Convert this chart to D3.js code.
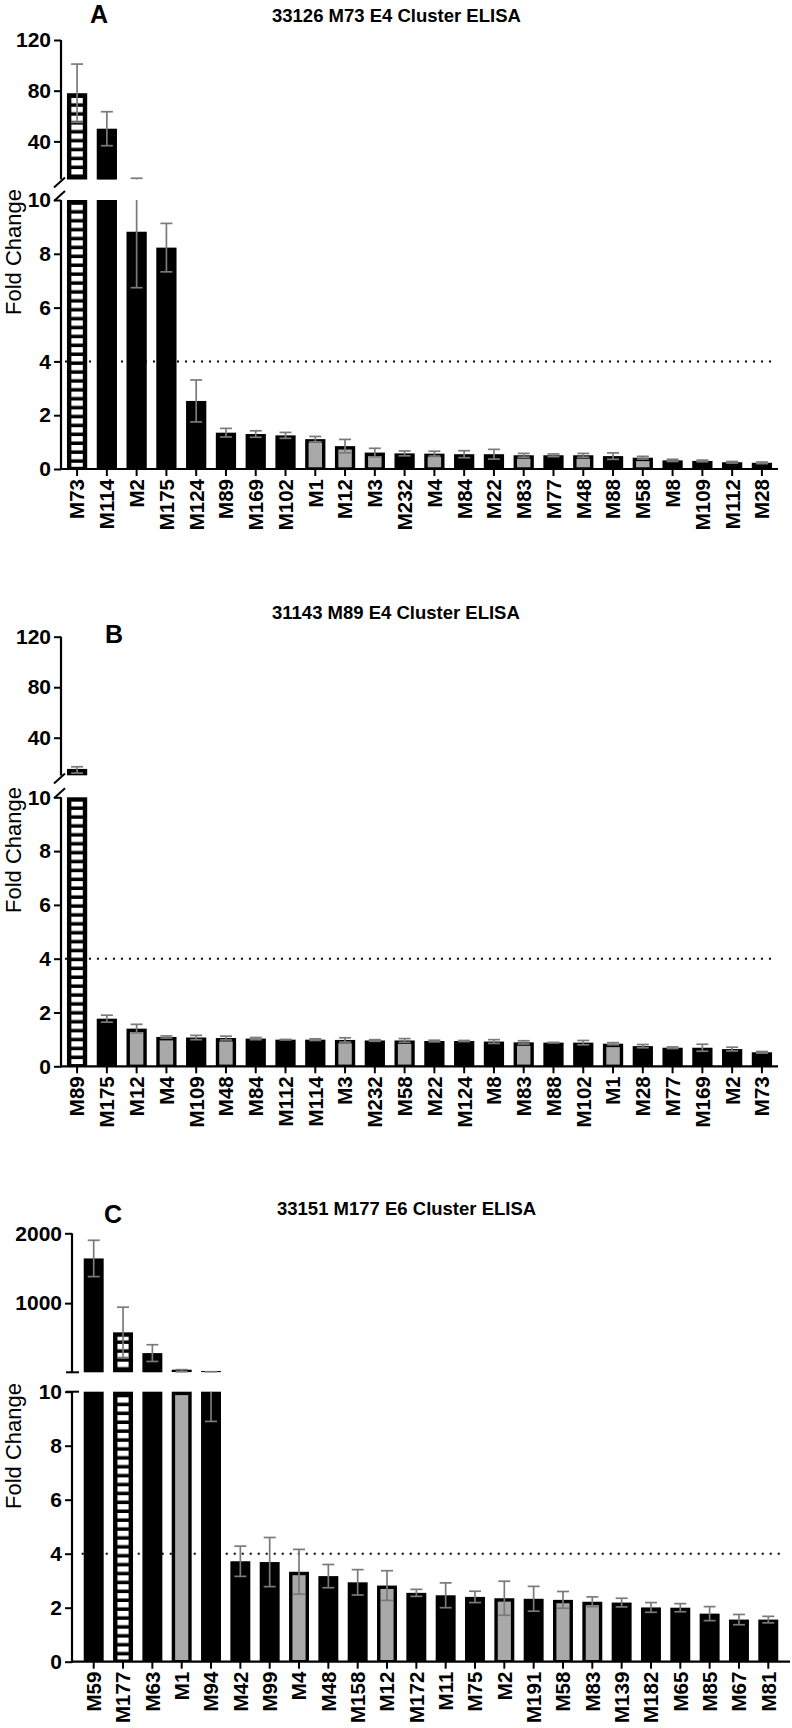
<!DOCTYPE html>
<html>
<head>
<meta charset="utf-8">
<script src="https://cdn.jsdelivr.net/npm/d3@7"></script>
<style>
  html, body { margin: 0; padding: 0; background: #fff; }
  svg { display: block; }
  text { font-family: "Liberation Sans", Arial, Helvetica, sans-serif; fill: #000; }
</style>
</head>
<body>
<div id="chart"></div>
<script>
// ---------------- DATA ----------------
const catA = ["M73","M114","M2","M175","M124","M89","M169","M102","M1","M12","M3","M232","M4","M84","M22","M83","M77","M48","M88","M58","M8","M109","M112","M28"];
const valA = [78,50,8.82,8.23,2.53,1.35,1.30,1.25,1.11,0.85,0.61,0.58,0.57,0.55,0.55,0.51,0.51,0.51,0.48,0.42,0.32,0.30,0.25,0.23];
const sdA  = [23,13.4,2.08,0.9,0.78,0.16,0.12,0.11,0.1,0.25,0.16,0.09,0.09,0.13,0.18,0.07,0.05,0.07,0.12,0.05,0.04,0.03,0.03,0.03];
const grpA = ["h","b","b","b","b","b","b","b","g","g","g","b","g","b","b","g","b","g","b","g","b","b","b","b"];

const catB = ["M89","M175","M12","M4","M109","M48","M84","M112","M114","M3","M232","M58","M22","M124","M8","M83","M88","M102","M1","M28","M77","M169","M2","M73"];
const valB = [14.5,1.77,1.40,1.09,1.07,1.05,1.03,0.99,0.99,0.98,0.96,0.96,0.94,0.94,0.92,0.89,0.88,0.88,0.84,0.75,0.69,0.69,0.64,0.52];
const sdB  = [2.5,0.13,0.16,0.04,0.08,0.07,0.04,0.01,0.03,0.08,0.03,0.07,0.03,0.02,0.07,0.06,0.01,0.08,0.04,0.06,0.03,0.13,0.07,0.03];
const grpB = ["h","b","g","g","b","g","b","b","b","g","b","g","b","b","b","g","b","b","g","b","b","b","b","b"];

const catC = ["M59","M177","M63","M1","M94","M42","M99","M4","M48","M158","M12","M172","M11","M75","M2","M191","M58","M83","M139","M182","M65","M85","M67","M81"];
const valC = [1640,582,285,33,13.5,3.72,3.69,3.33,3.17,2.94,2.82,2.55,2.46,2.40,2.35,2.33,2.29,2.22,2.19,2.01,2.00,1.78,1.56,1.56];
const sdC  = [260,360,120,15,4.6,0.56,0.91,0.83,0.43,0.47,0.55,0.13,0.46,0.21,0.63,0.46,0.31,0.18,0.16,0.18,0.15,0.26,0.19,0.12];
const grpC = ["b","h","b","g","b","b","b","g","b","b","g","b","b","b","g","b","g","g","b","b","b","b","b","b"];

const titles = ["33126 M73 E4 Cluster ELISA", "31143 M89 E4 Cluster ELISA", "33151 M177 E6 Cluster ELISA"];
const letters = ["A", "B", "C"];
const yLabel = "Fold Change";
const lowerDomain = [0, 10];
const lowerTicks = [0, 2, 4, 6, 8, 10];
const upperDomainAB = [10, 120];
const upperTicksAB = [40, 80, 120];
const upperDomainC = [10, 2000];
const upperTicksC = [1000, 2000];
const threshold = 4;

// ---------------- LAYOUT ----------------
const W = 792, H = 1728;
const panels = [
  { cats: catA, vals: valA, sds: sdA, grps: grpA, title: titles[0], letter: letters[0],
    axisX: 61, xEnd: 778, padOuter: 0.2,
    upper: { domain: upperDomainAB, ticks: upperTicksAB, y0: 179.4, y1: 40 },
    lower: { y0: 469, y1: 200 }, brk: "slash",
    titleX: 272, titleY: 22, letterX: 99, letterY: 23, ylabY: 252 },
  { cats: catB, vals: valB, sds: sdB, grps: grpB, title: titles[1], letter: letters[1],
    axisX: 61, xEnd: 778, padOuter: 0.2,
    upper: { domain: upperDomainAB, ticks: upperTicksAB, y0: 775.6, y1: 636.7 },
    lower: { y0: 1066.3, y1: 797.3 }, brk: "slash",
    titleX: 272, titleY: 619, letterX: 114, letterY: 643, ylabY: 850 },
  { cats: catC, vals: valC, sds: sdC, grps: grpC, title: titles[2], letter: letters[2],
    axisX: 72, xEnd: 790, padOuter: 0.4,
    upper: { domain: upperDomainC, ticks: upperTicksC, y0: 1372.3, y1: 1233.3 },
    lower: { y0: 1661.7, y1: 1391.7 }, brk: "cap",
    titleX: 277, titleY: 1215, letterX: 113, letterY: 1223, ylabY: 1446 }
];

const svg = d3.select("#chart").append("svg").attr("width", W).attr("height", H);
const defs = svg.append("defs");
const pat = defs.append("pattern").attr("id", "hatch").attr("patternUnits", "userSpaceOnUse")
  .attr("width", 40).attr("height", 8.9);
pat.append("rect").attr("width", 40).attr("height", 8.9).attr("fill", "#fff");
pat.append("rect").attr("y", 5.4).attr("width", 40).attr("height", 3.5).attr("fill", "#000");

const fillOf = g => g === "h" ? "url(#hatch)" : (g === "g" ? "#a9a9a9" : "#000");
const strokeOf = g => g === "h" ? 4.4 : (g === "g" ? 3.4 : 2.6);
const errColor = "#7a7a7a";

panels.forEach((p, pi) => {
  const g = svg.append("g");
  const x = d3.scaleBand().domain(p.cats).range([p.axisX, p.xEnd]).paddingInner(0.32).paddingOuter(p.padOuter);
  const bw = x.bandwidth();
  const segs = [
    { name: "upper", y: d3.scaleLinear().domain(p.upper.domain).range([p.upper.y0, p.upper.y1]), ticks: p.upper.ticks },
    { name: "lower", y: d3.scaleLinear().domain(lowerDomain).range([p.lower.y0, p.lower.y1]), ticks: lowerTicks }
  ];

  // titles
  g.append("text").attr("x", p.titleX).attr("y", p.titleY).attr("font-size", 18.5).attr("font-weight", "bold").text(p.title);
  g.append("text").attr("x", p.letterX).attr("y", p.letterY).attr("text-anchor", "middle").attr("font-size", 25).attr("font-weight", "bold").text(p.letter);
  g.append("text").attr("transform", `translate(13,${p.ylabY}) rotate(-90)`).attr("text-anchor", "middle")
    .attr("dy", "0.35em").attr("font-size", 22).text(yLabel);

  segs.forEach((s, si) => {
    const [d0, d1] = s.y.domain();
    const yTop = s.y(d1), yBot = s.y(d0);
    const clipId = `clip${pi}_${si}`;
    defs.append("clipPath").attr("id", clipId).append("rect")
      .attr("x", p.axisX + 1).attr("y", yTop - 1).attr("width", p.xEnd - p.axisX).attr("height", yBot - yTop + 1);
    const cg = g.append("g").attr("clip-path", `url(#${clipId})`);

    if (s.name === "lower") {
      cg.append("line")
        .attr("x1", x(p.cats[0]) - 2).attr("x2", x(p.cats[p.cats.length - 1]) + bw + 2)
        .attr("y1", s.y(threshold)).attr("y2", s.y(threshold))
        .attr("stroke", "#000").attr("stroke-width", 2).attr("stroke-dasharray", "2 6");
    }

    const data = p.cats.map((c, i) => ({ c, v: p.vals[i], sd: p.sds[i], grp: p.grps[i] }));
    // bars
    data.filter(d => d.v > d0).forEach(d => {
      const top = s.y(Math.min(d.v, d1));
      const h = yBot - top;
      const sw = strokeOf(d.grp);
      if (h < 2 * sw) {
        cg.append("rect").attr("x", x(d.c)).attr("width", bw)
          .attr("y", top - 1).attr("height", h + 1).attr("fill", "#000");
      } else {
        cg.append("rect")
          .attr("x", x(d.c) + sw / 2).attr("width", bw - sw)
          .attr("y", top + sw / 2).attr("height", Math.max(0, h - sw / 2))
          .attr("fill", fillOf(d.grp)).attr("stroke", "#000").attr("stroke-width", sw);
      }
    });
    // error bars
    data.forEach(d => {
      const lo = d.v - d.sd, hi = d.v + d.sd;
      if (hi <= d0) return;
      const a = Math.max(lo, d0), b = Math.min(hi, d1);
      const cx = x(d.c) + bw / 2;
      const eg = g.append("g").attr("stroke", errColor).attr("stroke-width", 1.7);
      if (b > a) eg.append("line").attr("x1", cx).attr("x2", cx).attr("y1", s.y(a)).attr("y2", s.y(b));
      if (hi <= d1 && hi > d0) eg.append("line").attr("x1", cx - 6).attr("x2", cx + 6).attr("y1", s.y(hi)).attr("y2", s.y(hi));
      if (lo >= d0 && lo <= d1) eg.append("line").attr("x1", cx - 6).attr("x2", cx + 6).attr("y1", s.y(lo)).attr("y2", s.y(lo));
    });

    // y axis
    const ax = g.append("g").attr("transform", `translate(${p.axisX},0)`)
      .call(d3.axisLeft(s.y).tickValues(s.ticks).tickSize(7).tickPadding(3).tickFormat(d3.format("d")));
    ax.select(".domain").remove();
    ax.selectAll(".tick line").attr("stroke", "#000").attr("stroke-width", 2);
    ax.selectAll(".tick text").attr("font-size", 21).attr("font-weight", "bold")
      .attr("font-family", "Liberation Sans, Arial, sans-serif").attr("fill", "#000");
    g.append("line").attr("x1", p.axisX).attr("x2", p.axisX).attr("y1", yTop).attr("y2", yBot + (s.name === "lower" ? 1 : 0))
      .attr("stroke", "#000").attr("stroke-width", 2.2);

    // break marks
    const bmY = s.name === "upper" ? yBot : yTop;
    if (p.brk === "slash") {
      const off = s.name === "upper" ? 3 : -4;
      g.append("line").attr("x1", p.axisX - 7).attr("y1", bmY + off + 5)
        .attr("x2", p.axisX + 4).attr("y2", bmY + off - 5).attr("stroke", "#000").attr("stroke-width", 2);
    } else {
      g.append("line").attr("x1", p.axisX - 6).attr("x2", p.axisX + 7).attr("y1", bmY).attr("y2", bmY)
        .attr("stroke", "#000").attr("stroke-width", 2);
    }

    // x axis
    if (s.name === "lower") {
      const xa = g.append("g").attr("transform", `translate(0,${yBot})`)
        .call(d3.axisBottom(x).tickSize(7).tickPadding(4));
      xa.select(".domain").remove();
      g.append("line").attr("x1", p.axisX - 1).attr("x2", p.xEnd).attr("y1", yBot).attr("y2", yBot)
        .attr("stroke", "#000").attr("stroke-width", 2.2);
      xa.selectAll(".tick line").attr("stroke", "#000").attr("stroke-width", 2);
      xa.selectAll(".tick text")
        .attr("font-size", 20.5).attr("font-weight", "bold").attr("font-family", "Liberation Sans, Arial, sans-serif")
        .attr("fill", "#000")
        .attr("transform", "rotate(-90)").attr("text-anchor", "end")
        .attr("x", -10).attr("y", 0).attr("dy", "0.36em");
    }
  });
});
</script>
</body>
</html>
